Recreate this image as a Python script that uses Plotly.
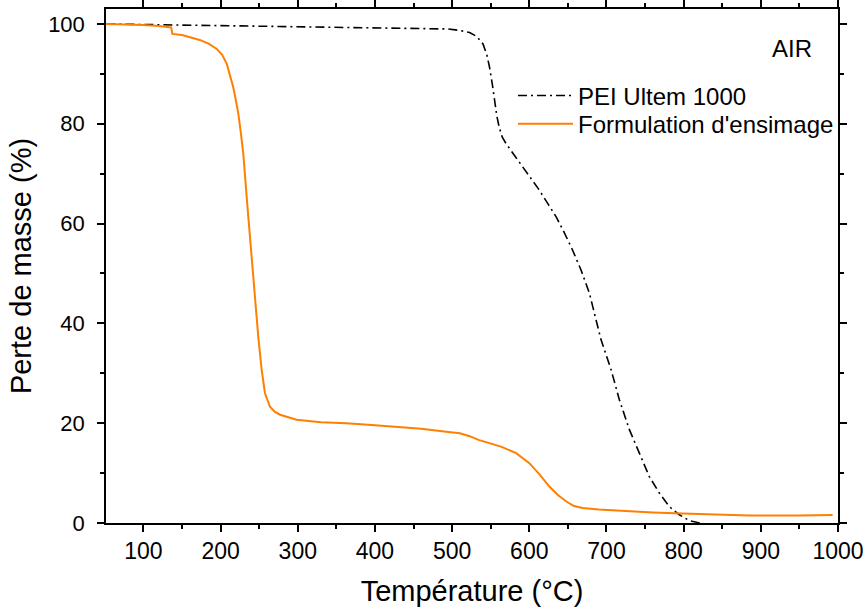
import plotly.graph_objects as go

# PEI Ultem 1000 (black dash-dot)
pei_T = [52, 100, 150, 200, 303, 400, 494, 510, 522.6, 532, 540, 545, 548.5, 552, 555, 558, 561, 565,
         570, 580, 591.6, 602, 613, 624, 635, 645, 656, 667, 678, 686, 693, 706, 716.7, 729.7, 742.6,
         755.5, 768.5, 781.4, 794, 807, 818, 826]
pei_m = [100, 99.9, 99.8, 99.7, 99.4, 99.3, 99.0, 98.7, 98.3, 97.5, 96.0, 93.8, 91.3, 88.0, 84.7, 81.5,
         79.3, 77.3, 76.0, 73.8, 71.3, 69.0, 66.7, 64.0, 61.3, 58.3, 54.7, 50.7, 46.0, 41.0, 36.7, 30.7,
         24.7, 18.7, 14.0, 9.3, 6.0, 3.3, 1.7, 0.5, 0.1, -0.1]

# Formulation d'ensimage (orange)
form_T = [52, 80, 100, 120, 136, 137.5, 150, 173, 185, 195, 202, 208, 212, 216.4, 220, 223, 226, 229.4,
          233.8, 238, 241.5, 244.5, 248.8, 253.2, 257.5, 264, 270, 277, 290, 298.5, 330, 363, 400, 428,
          460, 492.5, 510, 522.6, 535, 548.5, 565, 583, 600, 613, 626, 637, 648, 658, 669, 690, 712,
          760, 798.6, 850, 885, 950, 993]
form_m = [100, 99.9, 99.8, 99.6, 99.3, 98.0, 97.8, 96.8, 96.0, 95.0, 93.8, 92.0, 90.0, 87.3, 84.5, 82.0,
          78.5, 74.0, 65.3, 57.3, 50.7, 44.0, 37.3, 30.7, 26.0, 23.3, 22.3, 21.7, 21.0, 20.7, 20.2, 20.0,
          19.6, 19.3, 18.9, 18.3, 18.0, 17.4, 16.6, 16.0, 15.2, 14.0, 12.0, 9.8, 7.3, 5.6, 4.3, 3.4, 3.0,
          2.7, 2.5, 2.1, 1.9, 1.7, 1.5, 1.5, 1.6]

x_ticks = [100, 200, 300, 400, 500, 600, 700, 800, 900, 1000]
y_ticks = [0, 20, 40, 60, 80, 100]

FONT = "Arial, Liberation Sans, sans-serif"

fig = go.Figure()
fig.add_trace(go.Scatter(x=pei_T, y=pei_m, mode="lines", name="PEI Ultem 1000", legend="legend",
                         line=dict(color="black", width=1.6, dash="9px,4px,2px,4px")))
fig.add_trace(go.Scatter(x=form_T, y=form_m, mode="lines", name="Formulation d'ensimage", legend="legend2",
                         line=dict(color="#FF7F00", width=2)))

leg_common = dict(xanchor="left", yanchor="middle", bgcolor="rgba(0,0,0,0)",
                  font=dict(size=24, family=FONT), itemwidth=55)

fig.update_layout(
    width=868, height=609,
    margin=dict(l=106, r=30, t=9, b=86, autoexpand=False),
    paper_bgcolor="white", plot_bgcolor="white",
    font=dict(family=FONT, size=22, color="black"),
    showlegend=True,
    legend=dict(x=0.556, y=0.831, **leg_common),
    legend2=dict(x=0.556, y=0.776, **leg_common),
    annotations=[dict(text="AIR", x=0.937, y=0.923, xref="paper", yref="paper",
                      showarrow=False, font=dict(size=24), xanchor="center", yanchor="middle")],
)

axis_common = dict(showline=True, linecolor="black", linewidth=1.5, mirror="ticks",
                   ticks="outside", tickcolor="black", tickwidth=1.5, ticklen=7,
                   showgrid=False, zeroline=False, automargin=False)

fig.update_xaxes(range=[51.5, 1000], tickmode="array", tickvals=x_ticks,
                 tickfont=dict(size=23, family=FONT),
                 minor=dict(ticks="outside", ticklen=4, tickcolor="black", tickwidth=1.5, dtick=50, tick0=0),
                 title=dict(text="Température (°C)", font=dict(size=29), standoff=17),
                 **axis_common)
fig.update_yaxes(range=[0, 103], tickmode="array", tickvals=y_ticks,
                 tickfont=dict(size=22, family=FONT), ticklabelstandoff=8,
                 minor=dict(ticks="outside", ticklen=4, tickcolor="black", tickwidth=1.5, dtick=10, tick0=0),
                 title=dict(text="Perte de masse (%)", font=dict(size=29), standoff=8),
                 **axis_common)

fig.write_html("out.html", config={"displayModeBar": False},
               post_script="document.body.style.margin='0';document.body.style.padding='0';")
